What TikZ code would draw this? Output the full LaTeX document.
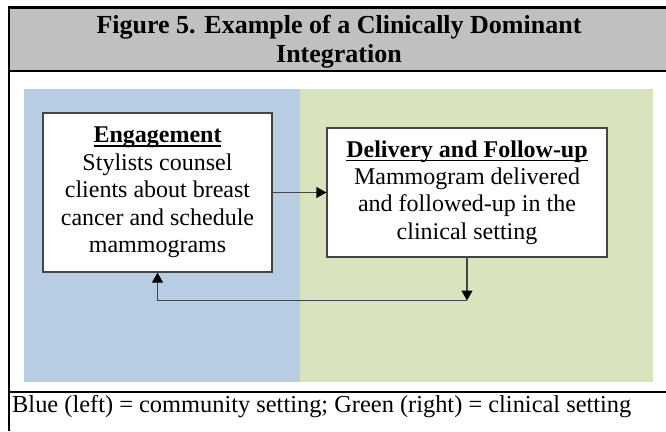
\documentclass[tikz,border=0pt]{standalone}
\usepackage{fontspec}
\setmainfont{Liberation Serif}
\usetikzlibrary{arrows.meta}
\definecolor{headgray}{HTML}{C0C0C0}
\definecolor{community}{HTML}{B8CCE4}
\definecolor{clinical}{HTML}{D7E4BD}
\definecolor{edge}{HTML}{454545}
% underline set at a fixed distance below the baseline
\newcommand\headul[1]{\setbox0\hbox{#1}\rlap{\rule[-4pt]{\wd0}{1.5pt}}\box0}

\begin{document}
\begin{tikzpicture}[x=1pt,y=-1pt,
  frame/.style={line width=2.2pt, black},
  stagebox/.style={draw=edge, line width=1.4pt, fill=white, align=center,
    inner sep=0pt, font=\fontsize{24}{27.4}\selectfont},
  flow/.style={draw=edge, line width=1.4pt,
    -{Triangle[length=10pt,width=11pt,color=black]}},
]
\useasboundingbox (0,0) rectangle (666,431);
\fill[white] (0,0) rectangle (666,431);

% table cell shading and rules
\fill[headgray] (9,7.5) rectangle (666,71);
\fill[community] (24,89) rectangle (299.5,382);
\fill[clinical] (299.5,89) rectangle (653,382);
\draw[frame] (666,7.5) -- (9,7.5) -- (9,431);
\draw[frame] (9,71) -- (666,71);
\draw[frame] (9,392) -- (666,392);

% heading
\node[font=\bfseries\fontsize{26}{29}\selectfont, align=center, inner sep=0pt]
  (title) at (339,41.4) {Figure 5. Example of a Clinically Dominant\\Integration};

% stages
\node[stagebox, minimum width=229pt, minimum height=159pt] (eng) at (157.5,192.5)
  {\headul{\textbf{Engagement}}\\Stylists counsel\\clients about breast\\cancer and schedule\\mammograms};
\node[stagebox, minimum width=280pt, minimum height=129pt] (del) at (467,192.5)
  {\headul{\textbf{Delivery and Follow-up}}\\Mammogram delivered\\and followed-up in the\\clinical setting};

% connectors
\coordinate (turn) at (del.south |- 0,300.5);
\draw[flow] (eng.east) -- (del.west);
\draw[flow] (del.south) -- (turn);
\draw[flow] (turn) -| (eng.south);

% key
\node[anchor=base west, inner sep=0pt, font=\fontsize{24.4}{27}\selectfont]
  (key) at (12,412) {Blue (left) = community setting; Green (right) = clinical setting};
\end{tikzpicture}
\end{document}
